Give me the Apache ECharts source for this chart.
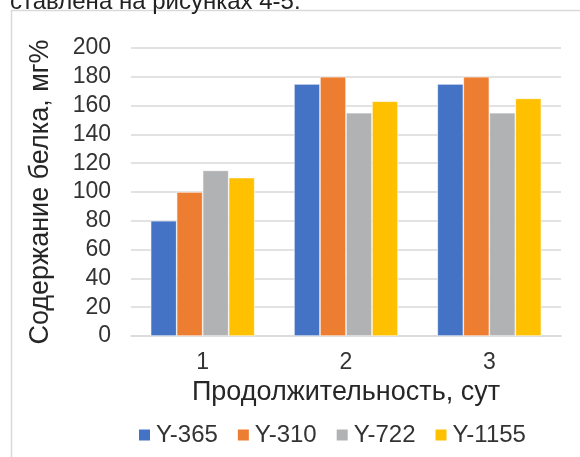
<!DOCTYPE html>
<html>
<head>
<meta charset="utf-8">
<script src="https://cdn.jsdelivr.net/npm/echarts@6/dist/echarts.min.js"></script>
<style>
  html, body { margin: 0; padding: 0; background: #fff; }
  #chart { width: 580px; height: 457px; }
</style>
</head>
<body>
<div id="chart"></div>
<script>
// Protein content by fermentation duration for four yeast strains
const days = ['1', '2', '3'];
const strainNames = ['Y-365', 'Y-310', 'Y-722', 'Y-1155'];
const y365 = [80, 175, 175];
const y310 = [100, 180, 180];
const y722 = [115, 155, 155];
const y1155 = [110, 163, 165];
const yTicks = [0, 20, 40, 60, 80, 100, 120, 140, 160, 180, 200];

const palette = ['#4472C4', '#ED7D31', '#B1B2B4', '#FFC000'];
const seriesValues = [y365, y310, y722, y1155];
const FONT = '"Liberation Sans", Arial, sans-serif';

const chart = echarts.init(document.getElementById('chart'), null, { renderer: 'canvas' });

chart.setOption({
  animation: false,
  backgroundColor: '#ffffff',
  textStyle: { fontFamily: FONT },
  graphic: [
    {
      type: 'rect',
      shape: { x: 11.5, y: 10.5, width: 620, height: 500 },
      style: { fill: 'none', stroke: '#d9d9d9', lineWidth: 1.5 },
      silent: true
    },
    {
      type: 'text',
      x: 10,
      y: 14,
      style: {
        text: 'ставлена на рисунках 4-5.',
        fontSize: 24,
        fontFamily: FONT,
        verticalAlign: 'bottom',
        fill: '#222'
      },
      silent: true
    }
  ],
  color: palette,
  grid: { left: 131, right: 19, top: 48, bottom: 121 },
  legend: {
    data: strainNames,
    left: 137,
    top: 423,
    padding: 0,
    itemWidth: 13,
    itemHeight: 13,
    itemGap: 18,
    icon: 'rect',
    textStyle: { fontSize: 24, color: '#333', fontFamily: FONT }
  },
  xAxis: {
    type: 'category',
    data: days,
    name: 'Продолжительность, сут',
    nameLocation: 'middle',
    nameGap: 40,
    nameTextStyle: { fontSize: 27, color: '#262626', fontFamily: FONT },
    axisLine: { lineStyle: { color: '#d9d9d9', width: 1.5 } },
    axisTick: { show: false },
    axisLabel: { fontSize: 23, color: '#333', margin: 15, fontFamily: FONT }
  },
  yAxis: {
    type: 'value',
    min: yTicks[0],
    max: yTicks[yTicks.length - 1],
    interval: 20,
    name: 'Содержание белка, мг%',
    nameLocation: 'middle',
    nameGap: 77,
    nameTextStyle: { fontSize: 27, color: '#262626', fontFamily: FONT },
    axisLine: { show: false },
    axisTick: { show: false },
    axisLabel: { fontSize: 23, color: '#333', margin: 20, fontFamily: FONT },
    splitLine: { lineStyle: { color: '#d9d9d9', width: 1.5 } }
  },
  series: strainNames.map((name, i) => ({
    name: name,
    type: 'bar',
    data: seriesValues[i],
    barWidth: 26,
    barGap: '0%',
    itemStyle: { color: palette[i], borderColor: '#ffffff', borderWidth: 0.6 }
  }))
});
</script>
</body>
</html>
